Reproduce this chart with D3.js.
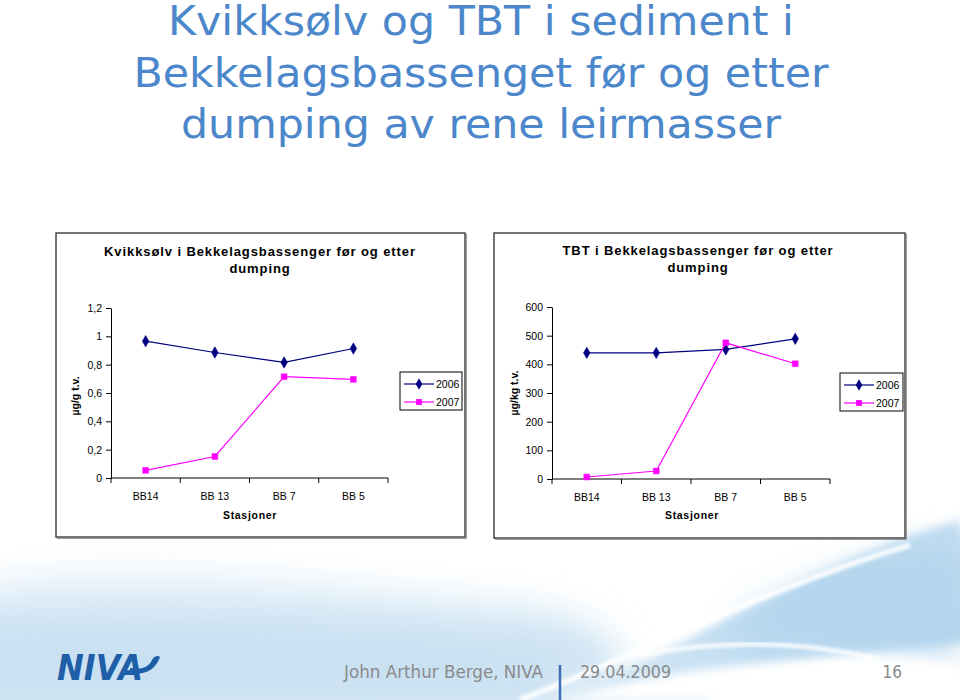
<!DOCTYPE html>
<html>
<head>
<meta charset="utf-8">
<script src="https://cdn.jsdelivr.net/npm/d3@7"></script>
<style>
  html, body { margin: 0; padding: 0; background: #ffffff; }
  svg { display: block; }
</style>
</head>
<body>
<svg id="slide" width="960" height="700"></svg>
<script>
// ---------- data ----------
const categories = ["BB14", "BB 13", "BB 7", "BB 5"];
const seriesNames = ["2006", "2007"];
const hg2006 = [0.966, 0.886, 0.816, 0.914];
const hg2007 = [0.054, 0.152, 0.715, 0.696];
const tbt2006 = [440, 440, 452, 489];
const tbt2007 = [7, 28, 475, 402];
const hgTicks = [0, 0.2, 0.4, 0.6, 0.8, 1, 1.2];
const hgTickLabels = ["0", "0,2", "0,4", "0,6", "0,8", "1", "1,2"];
const tbtTicks = [0, 100, 200, 300, 400, 500, 600];
const tbtTickLabels = ["0", "100", "200", "300", "400", "500", "600"];
const slideTitle = ["Kvikksølv og TBT i sediment i", "Bekkelagsbassenget før og etter", "dumping av rene leirmasser"];
const hgTitle = ["Kvikksølv i Bekkelagsbassenger før og etter", "dumping"];
const tbtTitle = ["TBT i Bekkelagsbassenger før og etter", "dumping"];
const xAxisTitle = "Stasjoner";
const footer = { author: "John Arthur Berge, NIVA", date: "29.04.2009", page: "16" };

// ---------- drawing ----------
const svg = d3.select("#slide");
const defs = svg.append("defs");
defs.append("filter").attr("id", "blur20").attr("x", "-30%").attr("y", "-30%").attr("width", "160%").attr("height", "160%")
  .append("feGaussianBlur").attr("stdDeviation", 18);
defs.append("filter").attr("id", "blur6").attr("x", "-30%").attr("y", "-30%").attr("width", "160%").attr("height", "160%")
  .append("feGaussianBlur").attr("stdDeviation", 5);
defs.append("filter").attr("id", "blur2").attr("x", "-10%").attr("y", "-10%").attr("width", "120%").attr("height", "120%")
  .append("feGaussianBlur").attr("stdDeviation", 1.5);
const g1 = defs.append("linearGradient").attr("id", "waveR").attr("x1", 0).attr("y1", 1).attr("x2", 1).attr("y2", 0);
g1.append("stop").attr("offset", "0%").attr("stop-color", "#d8eaf6");
g1.append("stop").attr("offset", "60%").attr("stop-color", "#b6d7ef");
g1.append("stop").attr("offset", "100%").attr("stop-color", "#c4def2");
const g2 = defs.append("linearGradient").attr("id", "waveL").attr("x1", 0).attr("y1", 0).attr("x2", 0).attr("y2", 1);
g2.append("stop").attr("offset", "0%").attr("stop-color", "#e4f0f9");
g2.append("stop").attr("offset", "55%").attr("stop-color", "#cde3f3");
g2.append("stop").attr("offset", "100%").attr("stop-color", "#e8f2fa");

// background waves
const bg = svg.append("g");
bg.append("path").attr("d", "M-40,590 C120,555 300,585 520,605 C600,615 640,650 620,700 L-40,720 Z")
  .attr("fill", "url(#waveL)").attr("filter", "url(#blur20)");
bg.append("path").attr("d", "M-40,630 C150,615 380,625 560,655 L560,720 L-40,720 Z")
  .attr("fill", "#c6dff1").attr("opacity", 0.75).attr("filter", "url(#blur20)");
bg.append("path").attr("d", "M560,700 C700,640 820,560 960,520 L990,640 C900,650 800,650 700,700 Z")
  .attr("fill", "url(#waveR)").attr("filter", "url(#blur6)");
bg.append("path").attr("d", "M740,620 C820,580 880,560 960,545 L960,660 C900,650 820,640 740,650 Z")
  .attr("fill", "#b2d4ed").attr("opacity", 0.85).attr("filter", "url(#blur20)");
bg.append("path").attr("d", "M520,700 C650,650 760,590 910,545")
  .attr("fill", "none").attr("stroke", "#ffffff").attr("stroke-width", 6).attr("opacity", 0.85).attr("filter", "url(#blur2)");
bg.append("path").attr("d", "M640,655 C720,640 800,640 880,660")
  .attr("fill", "none").attr("stroke", "#ffffff").attr("stroke-width", 5).attr("opacity", 0.8).attr("filter", "url(#blur2)");
bg.append("path").attr("d", "M560,700 L960,700 L960,665 C860,650 700,660 560,700 Z")
  .attr("fill", "#ffffff").attr("filter", "url(#blur6)");

// slide title
const titleWidths = [626, 695, 600];
const tg = svg.append("g").attr("font-family", "'DejaVu Sans', Verdana, sans-serif")
  .attr("font-size", 40).attr("fill", "#4b87ca").attr("text-anchor", "middle");
slideTitle.forEach((t, i) => {
  tg.append("text").attr("x", 481).attr("y", 35 + i * 51.5).text(t)
    .attr("textLength", titleWidths[i]).attr("lengthAdjust", "spacingAndGlyphs");
});

function drawChart(cfg) {
  const g = svg.append("g").attr("font-family", "'Liberation Sans', Arial, sans-serif");
  // frame
  g.append("rect").attr("x", cfg.box[0] + 1.5).attr("y", cfg.box[1] + 1.5).attr("width", cfg.box[2]).attr("height", cfg.box[3])
    .attr("fill", "none").attr("stroke", "#9a9a9a").attr("stroke-width", 1);
  g.append("rect").attr("x", cfg.box[0]).attr("y", cfg.box[1]).attr("width", cfg.box[2]).attr("height", cfg.box[3])
    .attr("fill", "#ffffff").attr("stroke", "#3a3a3a").attr("stroke-width", 1.4);

  // title
  cfg.title.forEach((t, i) => {
    g.append("text").attr("x", cfg.titleX).attr("y", cfg.titleY + i * 17).attr("text-anchor", "middle")
      .attr("font-size", 13).attr("font-weight", "bold").attr("letter-spacing", 0.9).attr("fill", "#000").text(t);
  });

  const x = d3.scaleBand().domain(categories).range(cfg.xRange).paddingInner(0).paddingOuter(0);
  const y = d3.scaleLinear().domain(cfg.yDomain).range(cfg.yRange);

  // y axis
  const yAxis = d3.axisLeft(y).tickValues(cfg.ticks).tickSizeInner(5).tickSizeOuter(0).tickPadding(4)
    .tickFormat((d, i) => cfg.tickLabels[i]);
  const ya = g.append("g").attr("transform", `translate(${cfg.xRange[0]},0)`).call(yAxis);
  ya.select(".domain").attr("stroke", "#000");
  ya.selectAll(".tick line").attr("stroke", "#000");
  ya.selectAll(".tick text").attr("font-size", 10.5).attr("font-family", "'Liberation Sans', Arial, sans-serif").attr("fill", "#000");

  // x axis
  const xa = g.append("g").attr("transform", `translate(0,${cfg.yRange[0]})`);
  xa.append("line").attr("x1", cfg.xRange[0]).attr("x2", cfg.xRange[1]).attr("stroke", "#000");
  const bounds = categories.map(c => x(c)).concat([cfg.xRange[1]]);
  xa.selectAll("line.tk").data(bounds).join("line").attr("class", "tk")
    .attr("x1", d => d).attr("x2", d => d).attr("y1", 0).attr("y2", 5).attr("stroke", "#000");
  xa.selectAll("text").data(categories).join("text")
    .attr("x", d => x(d) + x.bandwidth() / 2).attr("y", 22).attr("text-anchor", "middle")
    .attr("font-size", 10.5).attr("fill", "#000").text(d => d);

  // axis titles
  g.append("text").attr("x", cfg.xTitle[0]).attr("y", cfg.xTitle[1]).attr("text-anchor", "middle")
    .attr("font-size", 10.5).attr("font-weight", "bold").attr("letter-spacing", 0.7).text(xAxisTitle);
  g.append("text").attr("transform", `translate(${cfg.yTitle[0]},${cfg.yTitle[1]}) rotate(-90)`)
    .attr("text-anchor", "middle").attr("font-size", 10.5).attr("font-weight", "bold").text(cfg.yLabel);

  // series
  const cx = c => x(c) + x.bandwidth() / 2;
  const line = d3.line().x((d, i) => cx(categories[i])).y(d => y(d));
  const colors = ["#000080", "#ff00ff"];
  cfg.series.forEach((vals, si) => {
    g.append("path").datum(vals).attr("d", line).attr("fill", "none").attr("stroke", colors[si]).attr("stroke-width", 1.2);
    const sym = si === 0 ? d3.symbolDiamond : d3.symbolSquare;
    const size = si === 0 ? 38 : 34;
    g.selectAll(null).data(vals).join("path")
      .attr("transform", (d, i) => `translate(${cx(categories[i])},${y(d)})`)
      .attr("d", d3.symbol().type(sym).size(size)).attr("fill", colors[si]).attr("stroke", colors[si]).attr("stroke-width", 0.5);
  });

  // legend
  const L = cfg.legend;
  const lg = g.append("g");
  lg.append("rect").attr("x", L[0]).attr("y", L[1]).attr("width", L[2]).attr("height", L[3])
    .attr("fill", "#fff").attr("stroke", "#000").attr("stroke-width", 1);
  seriesNames.forEach((s, si) => {
    const yy = L[1] + 12 + si * 18;
    lg.append("line").attr("x1", L[0] + 4).attr("x2", L[0] + 34).attr("y1", yy).attr("y2", yy)
      .attr("stroke", colors[si]).attr("stroke-width", 1.2);
    lg.append("path").attr("transform", `translate(${L[0] + 19},${yy})`)
      .attr("d", d3.symbol().type(si === 0 ? d3.symbolDiamond : d3.symbolSquare).size(si === 0 ? 38 : 34))
      .attr("fill", colors[si]);
    lg.append("text").attr("x", L[0] + 36).attr("y", yy + 4).attr("font-size", 10.5).attr("fill", "#000").text(s);
  });
}

drawChart({
  box: [56, 233, 409, 304],
  title: hgTitle, titleX: 260, titleY: 256,
  xRange: [111, 388], yDomain: [0, 1.2], yRange: [478, 308],
  ticks: hgTicks, tickLabels: hgTickLabels,
  xTitle: [250, 519], yTitle: [79, 396], yLabel: "µg/g t.v.",
  series: [hg2006, hg2007],
  legend: [400, 372, 62, 38]
});

drawChart({
  box: [494, 233, 411, 305],
  title: tbtTitle, titleX: 698, titleY: 255,
  xRange: [552, 830], yDomain: [0, 600], yRange: [479, 307],
  ticks: tbtTicks, tickLabels: tbtTickLabels,
  xTitle: [692, 519], yTitle: [518, 393], yLabel: "µg/kg t.v.",
  series: [tbt2006, tbt2007],
  legend: [840, 373, 63, 38]
});

// footer
const fg = svg.append("g").attr("font-family", "'DejaVu Sans Condensed', 'DejaVu Sans', Tahoma, sans-serif")
  .attr("font-size", 17).attr("fill", "#8a8a8a");
fg.append("text").attr("x", 344).attr("y", 678).attr("textLength", 199).attr("lengthAdjust", "spacingAndGlyphs").text(footer.author);
fg.append("text").attr("x", 580).attr("y", 678).attr("textLength", 91).attr("lengthAdjust", "spacingAndGlyphs").text(footer.date);
fg.append("text").attr("x", 902).attr("y", 678).attr("text-anchor", "end").text(footer.page);
svg.append("line").attr("x1", 560).attr("x2", 560).attr("y1", 665).attr("y2", 700)
  .attr("stroke", "#3d6fb0").attr("stroke-width", 2.5);

// NIVA logo
const logo = svg.append("g");
logo.append("text").attr("x", 57).attr("y", 680).attr("font-family", "'DejaVu Sans', sans-serif")
  .attr("font-weight", "bold").attr("font-style", "italic").attr("font-size", 35).attr("fill", "#1f5fa8")
  .attr("textLength", 86).attr("lengthAdjust", "spacingAndGlyphs").text("NIVA");
logo.append("path").attr("d", "M130,668 C140,670 148,668 152,660 C154,656 158,655 160,657 C156,668 148,675 130,674 Z")
  .attr("fill", "#1f5fa8");
</script>
</body>
</html>
